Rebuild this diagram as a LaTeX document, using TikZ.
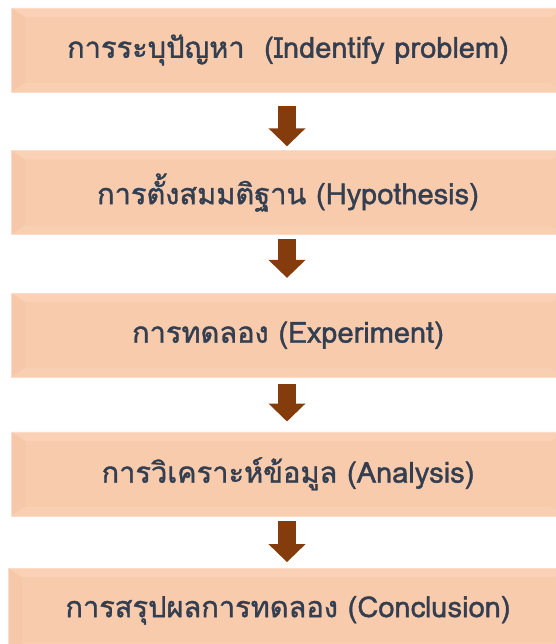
\documentclass[tikz,border=0pt]{standalone}
\usepackage{fontspec}
\newfontfamily\thaifont[Script=Thai,FakeBold=1.3]{Loma}
\usepackage{tikz}
\usetikzlibrary{arrows.meta,positioning}
\usepackage{xcolor}
\definecolor{boxpeach}{HTML}{F8CBAD}
\definecolor{boxlight}{HTML}{FAD1B5}
\definecolor{boxshade}{HTML}{F6C7A8}
\definecolor{boxedge}{HTML}{FADCC8}
\definecolor{arrbrown}{HTML}{843C0C}
\definecolor{txtnavy}{HTML}{333F50}
\tikzset{
    stepbox/.style={rectangle, fill=boxpeach, draw=boxedge, line width=0.6pt,
                    minimum width=554pt, minimum height=84pt, inner sep=0pt,
                    text=txtnavy, font=\thaifont\fontsize{29}{33}\selectfont,
                    path picture={
                        \fill[boxlight] (path picture bounding box.north west)
                            -- (path picture bounding box.north east)
                            -- ([xshift=-14pt,yshift=-9pt]path picture bounding box.north east)
                            -- ([xshift=14pt,yshift=-9pt]path picture bounding box.north west) -- cycle;
                        \fill[boxshade] (path picture bounding box.north west)
                            -- ([xshift=14pt,yshift=-9pt]path picture bounding box.north west)
                            -- ([xshift=14pt,yshift=9pt]path picture bounding box.south west)
                            -- (path picture bounding box.south west) -- cycle;
                        \fill[boxlight!60!boxpeach] (path picture bounding box.south west)
                            -- ([xshift=14pt,yshift=9pt]path picture bounding box.south west)
                            -- ([xshift=-14pt,yshift=9pt]path picture bounding box.south east)
                            -- (path picture bounding box.south east) -- cycle;
                    }},
    flowarr/.style={draw=arrbrown, line width=18pt,
                    -{Triangle[width=36pt,length=18pt]}},
}

\begin{document}
\begin{tikzpicture}
    \useasboundingbox (0,0) rectangle (555pt,-644pt);
    \node[stepbox] (step1) at (288pt,-50pt) {การระบุปัญหา~ (Indentify problem)};
    \node[stepbox, below=58pt of step1] (step2) {การตั้งสมมติฐาน (Hypothesis)};
    \node[stepbox, below=58pt of step2] (step3) {การทดลอง (Experiment)};
    \node[stepbox, below=54pt of step3] (step4) {การวิเคราะห์ข้อมูล (Analysis)};
    \node[stepbox, below=52pt of step4, minimum width=560pt] (step5) {การสรุปผลการทดลอง (Conclusion)};

    \draw[flowarr] ([xshift=-1pt,yshift=-14pt]step1.south) -- ([xshift=-1pt,yshift=4pt]step2.north);
    \draw[flowarr] ([xshift=-1pt,yshift=-4pt]step2.south) -- ([xshift=-1pt,yshift=15pt]step3.north);
    \draw[flowarr] ([xshift=-1pt,yshift=-6pt]step3.south) -- ([xshift=-1pt,yshift=10pt]step4.north);
    \draw[flowarr] ([xshift=-1pt,yshift=-5pt]step4.south) -- ([xshift=-1pt,yshift=6pt]step5.north);
\end{tikzpicture}
\end{document}
